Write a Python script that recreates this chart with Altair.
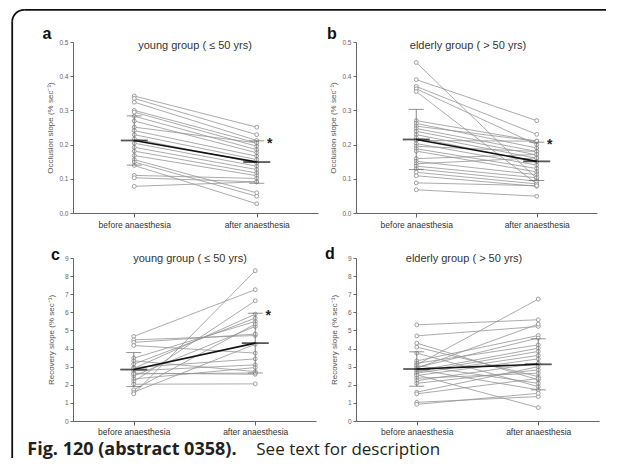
import altair as alt
import pandas as pd

conditions = ["before anaesthesia", "after anaesthesia"]

# a: young group, occlusion slope
a_before = [0.342, 0.335, 0.324, 0.300, 0.295, 0.283, 0.269, 0.251, 0.241, 0.229, 0.217,
            0.204, 0.192, 0.181, 0.168, 0.156, 0.149, 0.139, 0.110, 0.103, 0.078]
a_after = [0.251, 0.229, 0.212, 0.205, 0.195, 0.185, 0.176, 0.205, 0.166, 0.156, 0.146,
           0.137, 0.127, 0.117, 0.109, 0.059, 0.049, 0.027, 0.101, 0.091, 0.091]
a_mean = [0.212, 0.149]
a_sd = [0.072, 0.062]
a_star = ["", "*"]

# b: elderly group, occlusion slope
b_before = [0.44, 0.39, 0.37, 0.363, 0.355, 0.27, 0.262, 0.254, 0.247, 0.239, 0.229, 0.22, 0.212,
            0.203, 0.195, 0.188, 0.181, 0.159, 0.151, 0.144, 0.137, 0.129, 0.119, 0.109, 0.088, 0.068]
b_after = [0.10, 0.27, 0.23, 0.20, 0.085, 0.21, 0.19, 0.21, 0.18, 0.17, 0.16, 0.15, 0.21,
           0.14, 0.18, 0.13, 0.12, 0.171, 0.112, 0.161, 0.103, 0.093, 0.085, 0.078, 0.08, 0.049]
b_mean = [0.215, 0.151]
b_sd = [0.088, 0.056]
b_star = ["", "*"]

# c: young group, recovery slope
c_before = [4.67, 4.48, 4.34, 4.17, 3.47, 3.32, 3.14, 2.95, 2.77, 2.64, 2.49, 2.32, 2.18, 2.03,
            1.72, 1.59, 1.50, 2.60, 2.90]
c_after = [7.25, 4.72, 4.80, 3.75, 5.50, 2.73, 5.68, 3.43, 3.10, 2.58, 5.22, 2.95, 6.64, 2.05,
           5.35, 4.24, 8.30, 2.65, 5.90]
c_mean = [2.84, 4.30]
c_sd = [0.94, 1.65]
c_star = ["", "*"]

# d: elderly group, recovery slope
d_before = [5.31, 4.70, 4.30, 4.08, 3.75, 3.32, 3.19, 3.10, 3.06, 2.95, 2.92, 2.85, 2.77, 2.70,
            2.64, 2.55, 2.51, 2.36, 2.23, 2.08, 1.59, 1.50, 1.03, 0.92]
d_after = [5.59, 5.22, 2.27, 2.45, 1.90, 4.72, 4.20, 6.73, 2.08, 4.58, 5.35, 1.72, 4.02, 3.84,
           3.62, 0.74, 3.43, 2.64, 3.19, 2.82, 3.00, 2.35, 1.35, 1.53]
d_mean = [2.87, 3.13]
d_sd = [0.95, 1.41]
d_star = ["", ""]

occl_ticks = [0.0, 0.1, 0.2, 0.3, 0.4, 0.5]
recov_ticks = [0, 1, 2, 3, 4, 5, 6, 7, 8, 9]

titles = ["young group ( \u2264 50 yrs)", "elderly group ( > 50 yrs)",
          "young group ( \u2264 50 yrs)", "elderly group ( > 50 yrs)"]
letters = ["a", "b", "c", "d"]
occl_title = "Occlusion slope (% sec\u207b\u00b9)"
recov_title = "Recovery slope (% sec\u207b\u00b9)"
caption_bold = "Fig. 120 (abstract 0358)."
caption_text = "See text for description"

FONT = "Liberation Sans"
one = pd.DataFrame({"k": [0]})


def txt(s, **kw):
    return alt.Chart(pd.DataFrame({"t": [s]})).mark_text(**kw)


def panel(before, after, mean, sd, star, ytitle, yticks, yfmt, title, letter,
          title_xy, letter_xy, title_pad, xlab_pad):
    n = len(before)
    df = pd.DataFrame({
        "subject": list(range(n)) * 2,
        "cond": [conditions[0]] * n + [conditions[1]] * n,
        "value": list(before) + list(after),
    })
    summ = pd.DataFrame({
        "cond": conditions,
        "mean": mean,
        "lo": [m - s for m, s in zip(mean, sd)],
        "hi": [m + s for m, s in zip(mean, sd)],
        "star": star,
    })
    x = alt.X("cond:N", sort=conditions,
              scale=alt.Scale(type="point", padding=0.5),
              axis=alt.Axis(title=None, labelAngle=0, labelFontSize=8.5, labelColor="#333",
                            labelFont=FONT, tickSize=4, labelPadding=xlab_pad,
                            domainColor="#666", tickColor="#666"))
    yscale = alt.Scale(domain=[yticks[0], yticks[-1]], nice=False, zero=True)
    yaxis = alt.Axis(values=yticks, format=yfmt, title=ytitle, titleFontSize=8,
                     titleFontWeight="normal", titleColor="#555", titleFont=FONT,
                     titlePadding=title_pad, labelFontSize=6.5, labelColor="#666",
                     labelFont=FONT, tickSize=3, labelPadding=2,
                     domainColor="#666", tickColor="#666")

    def Y(field):
        return alt.Y(field, scale=yscale, axis=yaxis, title=ytitle)

    base = alt.Chart(df)
    lines = base.mark_line(color="#959595", strokeWidth=0.8).encode(
        x=x, y=Y("value:Q"), detail="subject:N")
    pts = base.mark_point(shape="circle", size=15, fill="white", fillOpacity=1,
                          stroke="#888888", strokeWidth=0.8, opacity=1).encode(
        x=x, y=Y("value:Q"))
    sb = alt.Chart(summ)
    sd_rule = sb.mark_rule(color="#666", strokeWidth=0.8).encode(
        x=x, y=Y("lo:Q"), y2="hi:Q")
    cap_hi = sb.mark_tick(size=15, thickness=1, color="#666").encode(x=x, y=Y("hi:Q"))
    cap_lo = sb.mark_tick(size=15, thickness=1, color="#666").encode(x=x, y=Y("lo:Q"))
    mline = sb.mark_line(color="#111", strokeWidth=1.6).encode(x=x, y=Y("mean:Q"))
    mtick = sb.mark_tick(size=27, thickness=1.8, color="#111").encode(x=x, y=Y("mean:Q"))
    stars = sb.mark_text(fontSize=14, fontWeight="bold", font=FONT, color="#222",
                         align="center", baseline="middle", dx=13, dy=3).encode(
        x=x, y=Y("hi:Q"), text="star:N")
    ttl = txt(title, fontSize=11, font=FONT, color="#333", align="center",
              baseline="middle").encode(text="t:N", x=alt.value(title_xy[0]),
                                        y=alt.value(title_xy[1]))
    let = txt(letter, fontSize=16, fontWeight="bold", font=FONT, color="#111",
              align="center", baseline="middle").encode(
        text="t:N", x=alt.value(letter_xy[0]), y=alt.value(letter_xy[1]))
    return [lines, pts, sd_rule, cap_hi, cap_lo, mline, mtick, stars, ttl, let]


# --- frame decoration (drawn from panel a)
xL, yT, R, xR, yB = -60.8, -32.2, 12, 533, 416
frame_left = alt.Chart(one).mark_rule(color="#111", strokeWidth=1.8).encode(
    x=alt.value(xL), y=alt.value(yT + R), y2=alt.value(yB))
frame_top = alt.Chart(one).mark_rule(color="#111", strokeWidth=1.8).encode(
    x=alt.value(xL + R), x2=alt.value(xR), y=alt.value(yT))
frame_corner = alt.Chart(one).mark_arc(radius=R + 0.9, radius2=R - 0.9, theta=4.712389,
                                       theta2=6.283185, color="#111").encode(
    x=alt.value(xL + R), y=alt.value(yT + R))

pa = alt.layer(*panel(a_before, a_after, a_mean, a_sd, a_star, occl_title, occl_ticks, ".1f",
                      titles[0], letters[0], (122, 4), (-26, -8), 4, 3),
               frame_left, frame_top, frame_corner).properties(width=245, height=171)

pb = alt.layer(*panel(b_before, b_after, b_mean, b_sd, b_star, occl_title, occl_ticks, ".1f",
                      titles[1], letters[1], (112, 4), (-24, -8), 4, 3)
               ).properties(width=241, height=171)

cap1 = txt(caption_bold, fontSize=18, fontWeight="bold", font="Open Sans", color="#231f20",
           align="left", baseline="alphabetic").encode(
    text="t:N", x=alt.value(-45.7), y=alt.value(197))
cap2 = txt(caption_text, fontSize=17, font="Open Sans", color="#231f20",
           align="left", baseline="alphabetic").encode(
    text="t:N", x=alt.value(183.3), y=alt.value(197))

pc = alt.layer(*panel(c_before, c_after, c_mean, c_sd, c_star, recov_title, recov_ticks, "d",
                      titles[2], letters[2], (117, 1), (-17.5, -3), 9, 2),
               cap1, cap2).properties(width=243, height=163)

pd_ = alt.layer(*panel(d_before, d_after, d_mean, d_sd, d_star, recov_title, recov_ticks, "d",
                       titles[3], letters[3], (108, 1), (-26, -4), 9, 2)
                ).properties(width=243, height=163)

chart = alt.concat(
    pa, pb, pc, pd_, columns=2, spacing={"row": 45, "column": 38}, bounds="flush",
).properties(
    padding={"left": 3, "top": 0, "right": 0, "bottom": 0},
    background="white",
).configure_view(stroke=None).configure_axis(grid=False)

chart.save("out.html", embed_options={"renderer": "svg", "actions": False})
